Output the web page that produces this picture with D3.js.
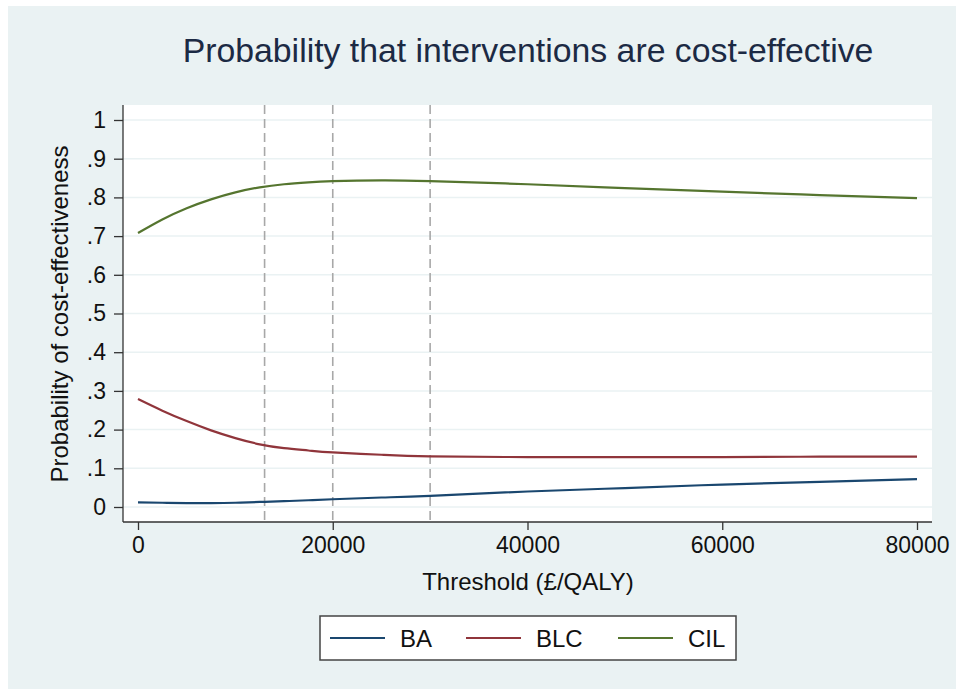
<!DOCTYPE html>
<html>
<head>
<meta charset="utf-8">
<script src="https://cdn.jsdelivr.net/npm/d3@7"></script>
<style>
  body { margin: 0; background: #ffffff; }
  text { font-family: "Liberation Sans", Arial, sans-serif; }
</style>
</head>
<body>
<div id="chart"></div>
<script>
// data
const thresholds = [0, 2500, 5000, 7500, 10000, 12500, 15000, 17500, 20000, 25000, 30000, 40000, 50000, 60000, 70000, 80000];
const baValues  = [0.012, 0.011, 0.010, 0.010, 0.011, 0.013, 0.015, 0.0175, 0.020, 0.0245, 0.029, 0.040, 0.049, 0.058, 0.065, 0.072];
const blcValues = [0.279, 0.249, 0.222, 0.198, 0.178, 0.162, 0.152, 0.146, 0.141, 0.135, 0.131, 0.129, 0.129, 0.129, 0.130, 0.130];
const cilValues = [0.708, 0.743, 0.772, 0.795, 0.813, 0.826, 0.834, 0.839, 0.842, 0.844, 0.842, 0.834, 0.824, 0.815, 0.806, 0.798];
const seriesNames = ["BA", "BLC", "CIL"];
const seriesColors = ["#1a476f", "#90353b", "#55752f"];
const refLines = [13000, 20000, 30000];
const xTicks = [0, 20000, 40000, 60000, 80000];
const yTicks = [0, 0.1, 0.2, 0.3, 0.4, 0.5, 0.6, 0.7, 0.8, 0.9, 1];

const W = 956, H = 689;
const plot = {left: 123, right: 932, top: 105, bottom: 522};

let svg = d3.select("#chart").append("svg")
    .attr("width", W).attr("height", H);

// outer background
svg.append("rect").attr("x", 8).attr("y", 6).attr("width", W - 8).attr("height", H - 6)
    .attr("fill", "#eaf2f3");

// plot region
svg.append("rect")
    .attr("x", plot.left).attr("y", plot.top)
    .attr("width", plot.right - plot.left).attr("height", plot.bottom - plot.top)
    .attr("fill", "#ffffff");

let x = d3.scaleLinear().domain([0, 80000]).range([138, 917]);
let y = d3.scaleLinear().domain([0, 1]).range([507, 120]);

// gridlines
svg.append("g").selectAll("line")
    .data(yTicks).enter().append("line")
    .attr("x1", plot.left).attr("x2", plot.right)
    .attr("y1", d => y(d)).attr("y2", d => y(d))
    .attr("stroke", "#eaf2f3").attr("stroke-width", 1.5);

// reference lines
svg.append("g").selectAll("line")
    .data(refLines).enter().append("line")
    .attr("x1", d => x(d)).attr("x2", d => x(d))
    .attr("y1", plot.top).attr("y2", plot.bottom)
    .attr("stroke", "#a8a8a8").attr("stroke-width", 1.6)
    .attr("stroke-dasharray", "9,5");

// series lines
const allValues = [baValues, blcValues, cilValues];
let line = d3.line()
    .x((d, i) => x(thresholds[i]))
    .y(d => y(d))
    .curve(d3.curveNatural);

svg.append("g").selectAll("path")
    .data(allValues).enter().append("path")
    .attr("d", d => line(d))
    .attr("fill", "none")
    .attr("stroke", (d, i) => seriesColors[i])
    .attr("stroke-width", 2.2);

// y axis
let yAxis = svg.append("g")
    .attr("transform", "translate(" + plot.left + ",0)")
    .call(d3.axisLeft(y).tickValues(yTicks).tickSize(9).tickPadding(8)
        .tickFormat(d => d === 0 ? "0" : d === 1 ? "1" : d3.format(".1f")(d).replace(/^0/, "")));
yAxis.select(".domain").attr("d", "M0," + plot.top + "V" + plot.bottom).attr("stroke", "#333").attr("stroke-width", 1.3);
yAxis.selectAll(".tick line").attr("stroke", "#333").attr("stroke-width", 1.3);
yAxis.selectAll(".tick text").attr("font-size", 23).attr("fill", "#111")
    .attr("font-family", "Liberation Sans, Arial, sans-serif");

// x axis
let xAxis = svg.append("g")
    .attr("transform", "translate(0," + plot.bottom + ")")
    .call(d3.axisBottom(x).tickValues(xTicks).tickSize(8).tickPadding(7)
        .tickFormat(d3.format("d")));
xAxis.select(".domain").attr("d", "M" + plot.left + ",0H" + plot.right).attr("stroke", "#333").attr("stroke-width", 1.3);
xAxis.selectAll(".tick line").attr("stroke", "#333").attr("stroke-width", 1.3);
xAxis.selectAll(".tick text").attr("font-size", 23).attr("fill", "#111")
    .attr("font-family", "Liberation Sans, Arial, sans-serif");

// title
svg.append("text")
    .attr("x", 528).attr("y", 62)
    .attr("text-anchor", "middle")
    .attr("font-size", 33.8)
    .attr("fill", "#1c2a44")
    .text("Probability that interventions are cost-effective");

// axis titles
svg.append("text")
    .attr("x", 528).attr("y", 590)
    .attr("text-anchor", "middle")
    .attr("font-size", 24)
    .attr("fill", "#111")
    .text("Threshold (£/QALY)");

svg.append("text")
    .attr("transform", "translate(68,314) rotate(-90)")
    .attr("text-anchor", "middle")
    .attr("font-size", 24)
    .attr("fill", "#111")
    .text("Probability of cost-effectiveness");

// legend
let legend = svg.append("g");
legend.append("rect")
    .attr("x", 320).attr("y", 616).attr("width", 416).attr("height", 44)
    .attr("fill", "#ffffff").attr("stroke", "#444").attr("stroke-width", 1.5);

const legendX = [330, 466, 618];
legend.selectAll("line.key")
    .data(seriesNames).enter().append("line")
    .attr("x1", (d, i) => legendX[i]).attr("x2", (d, i) => legendX[i] + 55)
    .attr("y1", 638).attr("y2", 638)
    .attr("stroke", (d, i) => seriesColors[i]).attr("stroke-width", 2.2);

legend.selectAll("text.key")
    .data(seriesNames).enter().append("text")
    .attr("x", (d, i) => legendX[i] + 70)
    .attr("y", 647)
    .attr("font-size", 24)
    .attr("fill", "#111")
    .text(d => d);
</script>
</body>
</html>
